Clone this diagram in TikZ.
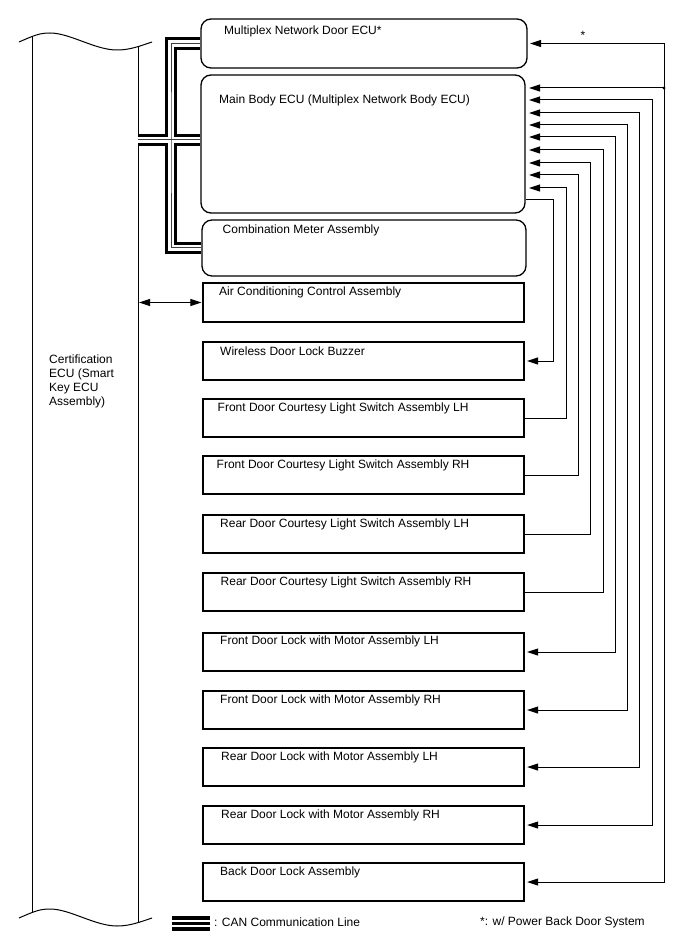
\documentclass[tikz,border=0pt]{standalone}
\usepackage{fontspec}
\setmainfont{Liberation Sans}
\usetikzlibrary{arrows.meta}

\begin{document}
\begin{tikzpicture}[x=1pt, y=-1pt,
  >={Triangle[length=11pt, width=7pt]},
  every node/.style={font=\fontsize{12pt}{13.8pt}\selectfont, inner sep=0pt},
  rbox/.style={draw, line width=1.3pt, rounded corners=10pt},
  unit/.style={draw, line width=1.3pt, minimum width=321pt, minimum height=38pt},
  txt/.style={anchor=west},
  wire/.style={line width=1pt, shorten >=2.5pt},
  can/.style={line width=12.5pt, postaction={draw=white, line width=6.5pt},
    postaction={draw=black!75, line width=1pt}}]
\useasboundingbox (0,0) rectangle (688,949);

% certification ECU column
\draw[line width=1pt] (19,42) .. controls (35,35) and (40,33) .. (50,33)
  .. controls (70,33) and (95,50) .. (117,50)
  .. controls (130,50) and (140,46) .. (152,42);
\draw[line width=1pt] (19,918) .. controls (35,911) and (40,909) .. (50,909)
  .. controls (70,909) and (95,926) .. (117,926)
  .. controls (130,926) and (140,922) .. (152,918);
\draw[line width=1pt] (32.5,36.4) -- (32.5,912.4);
\draw[line width=1pt] (138,46.5) -- (138,922.5);
\node[txt, align=left] (cert) at (49,381.5)
  {Certification\\ECU (Smart\\Key ECU\\Assembly)};
\coordinate (certr) at (138,140);

% ECUs on the CAN line
\node[rbox, minimum width=326pt, minimum height=49pt] (mnd) at (364,43.5) {};
\node[rbox, minimum width=324pt, minimum height=138pt] (mbe) at (363,144) {};
\node[rbox, minimum width=324pt, minimum height=56pt] (cma) at (364,248) {};
\node[txt] (mnd-t) at (224,31) {Multiplex Network Door ECU*};
\node[txt] (mbe-t) at (219,100) {Main Body ECU (Multiplex Network Body ECU)};
\node[txt] (cma-t) at (222.5,230) {Combination Meter Assembly};

% other units
\node[unit, minimum height=39pt] (acc) at (363.5,302.5) {};
\node[unit] (wdb) at (363.5,361) {};
\node[unit] (fcl) at (363.5,418) {};
\node[unit] (fcr) at (363.5,475) {};
\node[unit] (rcl) at (363.5,534) {};
\node[unit] (rcr) at (363.5,592) {};
\node[unit] (fll) at (363.5,652) {};
\node[unit] (flr) at (363.5,710) {};
\node[unit] (rll) at (363.5,767) {};
\node[unit] (rlr) at (363.5,825) {};
\node[unit] (bdl) at (363.5,882) {};
\node[txt] (acc-t) at (219,292) {Air Conditioning Control Assembly};
\node[txt] (wdb-t) at (220,351) {Wireless Door Lock Buzzer};
\node[txt] (fcl-t) at (217.5,408) {Front Door Courtesy Light Switch Assembly LH};
\node[txt] (fcr-t) at (216.5,465) {Front Door Courtesy Light Switch Assembly RH};
\node[txt] (rcl-t) at (220,524) {Rear Door Courtesy Light Switch Assembly LH};
\node[txt] (rcr-t) at (220.5,582) {Rear Door Courtesy Light Switch Assembly RH};
\node[txt] (fll-t) at (220,641) {Front Door Lock with Motor Assembly LH};
\node[txt] (flr-t) at (220,700) {Front Door Lock with Motor Assembly RH};
\node[txt] (rll-t) at (221,757) {Rear Door Lock with Motor Assembly LH};
\node[txt] (rlr-t) at (221,815) {Rear Door Lock with Motor Assembly RH};
\node[txt] (bdl-t) at (220,872) {Back Door Lock Assembly};

% CAN line
\coordinate (bus) at (171,140);
\draw[can] (mnd.west) -| (bus) |- (cma.west) (certr) -- (certr -| mbe.west);

% air conditioning
\draw[<->, wire, shorten <=1pt, shorten >=1pt] (acc.west -| certr) -- (acc.west);

% lanes on the right
\coordinate (k0) at (553,200);
\coordinate (k1) at (566,188);
\coordinate (k2) at (578,175);
\coordinate (k3) at (590,163);
\coordinate (k4) at (603,150);
\coordinate (k5) at (615,137);
\coordinate (k6) at (627,125);
\coordinate (k7) at (639,113);
\coordinate (k8) at (652,100);
\coordinate (k9) at (664,88);

\draw[->, wire] (mbe.east |- k0) -- (k0) |- (wdb.east);
\draw[->, wire, shorten >=3.5pt] (fcl.east) -| (k1) -- (mbe.east |- k1);
\draw[->, wire, shorten >=3.5pt] (fcr.east) -| (k2) -- (mbe.east |- k2);
\draw[->, wire, shorten >=3.5pt] (rcl.east) -| (k3) -- (mbe.east |- k3);
\draw[->, wire, shorten >=3.5pt] (rcr.east) -| (k4) -- (mbe.east |- k4);
\draw[<->, wire, shorten <=3.5pt] (mbe.east |- k5) -- (k5) |- (fll.east);
\draw[<->, wire, shorten <=3.5pt] (mbe.east |- k6) -- (k6) |- (flr.east);
\draw[<->, wire, shorten <=3.5pt] (mbe.east |- k7) -- (k7) |- (rll.east);
\draw[<->, wire, shorten <=3.5pt] (mbe.east |- k8) -- (k8) |- (rlr.east);
\draw[<->, wire, shorten <=2.5pt] (mnd.east) -| (k9) |- (bdl.east);
\draw[->, wire, shorten >=3.5pt] (k9) -- (mbe.east |- k9);
\fill (k9) circle (1.6pt);
\node (star) at (583,35) {*};

% legend
\draw[line width=3.6pt] (172,917.8) -- (210,917.8);
\draw[line width=3.6pt] (172,923.5) -- (210,923.5);
\draw[line width=3.6pt] (172,929.2) -- (210,929.2);
\node[txt] (can-t) at (214,922) {: CAN Communication Line};
\node[txt] (note-t) at (480,922) {*: w/ Power Back Door System};
\end{tikzpicture}
\end{document}
